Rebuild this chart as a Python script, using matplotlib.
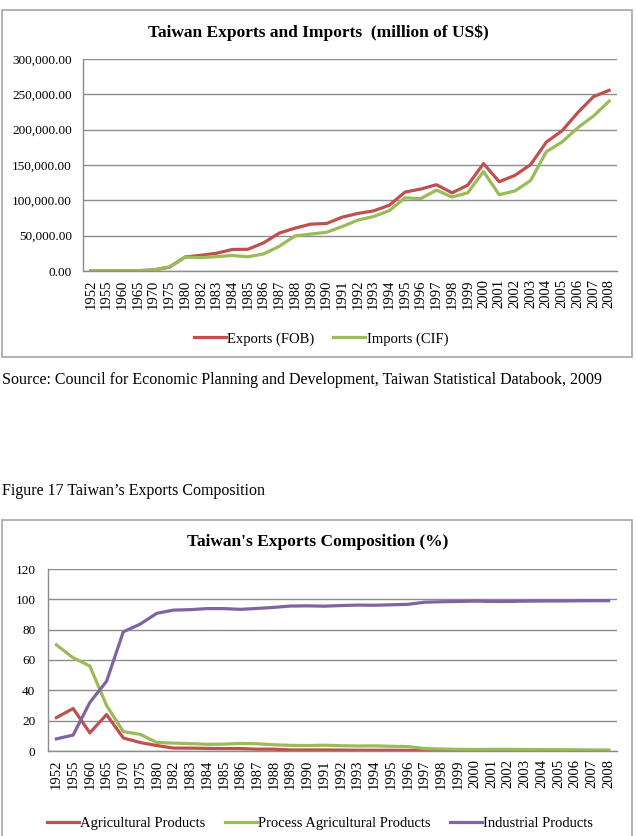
import matplotlib
matplotlib.use("Agg")
import matplotlib.pyplot as plt
from matplotlib.patches import Rectangle
from matplotlib.ticker import FuncFormatter

plt.rcParams["font.family"] = ["Liberation Serif", "DejaVu Serif"]

years = ["1952", "1955", "1960", "1965", "1970", "1975", "1980"] + \
    [str(y) for y in range(1982, 2009)]

# million US$
exports_fob = [116, 123, 164, 450, 1481, 5309, 19811, 22204, 25123, 30456,
               30726, 39862, 53679, 60667, 66304, 67214, 76178, 81470, 85092,
               93049, 111659, 115942, 122081, 110582, 121591, 151950, 126314,
               135317, 150600, 182370, 198432, 224017, 246677, 255629]
imports_cif = [187, 201, 297, 556, 1524, 5952, 19733, 18888, 20287, 21959,
               20102, 24181, 34983, 49673, 52265, 54716, 62861, 72007, 77061,
               85349, 103550, 102370, 114425, 104665, 110690, 140732, 107971,
               113245, 128010, 168758, 182614, 202698, 219252, 240448]

# percent of exports
agri = [22, 28, 12, 24, 8.6, 5.6, 3.6, 1.9, 1.9, 1.7, 1.6, 1.6, 1.2, 1.2,
        0.7, 0.7, 0.7, 0.6, 0.5, 0.5, 0.5, 0.4, 0.3, 0.3, 0.3, 0.2, 0.3,
        0.3, 0.2, 0.2, 0.2, 0.2, 0.2, 0.2]
proc_agri = [70, 61.5, 56, 30, 12.8, 11, 5.6, 5.2, 4.9, 4.4, 4.5, 5.0, 4.8,
             4.1, 3.7, 3.6, 3.8, 3.5, 3.3, 3.4, 3.1, 2.9, 1.6, 1.3, 1.1, 1.0,
             1.1, 1.1, 1.0, 0.9, 0.9, 0.8, 0.7, 0.7]
industrial = [8, 10.5, 32, 46, 78.6, 83.6, 90.8, 92.9, 93.2, 93.9, 93.9,
              93.4, 94.0, 94.7, 95.6, 95.7, 95.5, 95.9, 96.2, 96.1, 96.4,
              96.7, 98.1, 98.4, 98.6, 98.8, 98.6, 98.6, 98.8, 98.9, 98.9,
              99.0, 99.1, 99.1]

RED = "#C0504D"
GREEN = "#9BBB59"
PURPLE = "#8064A2"
GRID = "#8C8C8C"

W, H = 636, 836
fig = plt.figure(figsize=(W / 100, H / 100), dpi=100)


def fx(px):
    return px / W


def fy(py):
    return 1 - py / H


def style_axes(ax, ypad):
    ax.grid(axis="y", color=GRID, linewidth=1.0)
    ax.set_axisbelow(True)
    for s in ("top", "right"):
        ax.spines[s].set_visible(False)
    for s in ("left", "bottom"):
        ax.spines[s].set_color(GRID)
        ax.spines[s].set_linewidth(1.0)
    ax.tick_params(axis="y", length=0, labelsize=9.5, pad=ypad)
    ax.tick_params(axis="x", length=0, labelsize=10.5, rotation=90, pad=6)
    ax.set_xlim(-0.5, len(years) - 0.5)


# frames around both charts
fig.patches.append(Rectangle((fx(2), fy(357)), fx(630), 347 / H,
                             transform=fig.transFigure, fill=False,
                             edgecolor="#A6A6A6", linewidth=1.2))
fig.patches.append(Rectangle((fx(2), fy(850)), fx(630), 330 / H,
                             transform=fig.transFigure, fill=False,
                             edgecolor="#A6A6A6", linewidth=1.2))

# chart 1
x = range(len(years))
ax1 = fig.add_axes([fx(83), fy(271), fx(617 - 83), (271 - 59) / H])
ax1.plot(x, exports_fob, color=RED, lw=2.3, label="Exports (FOB)")
ax1.plot(x, imports_cif, color=GREEN, lw=2.3, label="Imports (CIF)")
ax1.set_ylim(0, 300000)
ax1.set_yticks(range(0, 300001, 50000))
ax1.yaxis.set_major_formatter(FuncFormatter(lambda v, p: f"{v:,.2f}"))
ax1.set_xticks(list(x))
ax1.set_xticklabels(years)
style_axes(ax1, 8)
fig.text(0.5, fy(33), "Taiwan Exports and Imports  (million of US$)",
         ha="center", va="center", fontsize=12.5, fontweight="bold")
ax1.legend(loc="center", bbox_to_anchor=(fx(321), fy(339)),
           bbox_transform=fig.transFigure, ncol=2, frameon=False,
           fontsize=10.5, handlelength=2.2, handletextpad=0.1,
           columnspacing=1.3)

fig.text(fx(2), fy(380),
         "Source: Council for Economic Planning and Development, "
         "Taiwan Statistical Databook, 2009",
         ha="left", va="center", fontsize=11.5)
fig.text(fx(2), fy(491), "Figure 17 Taiwan\u2019s Exports Composition",
         ha="left", va="center", fontsize=11.5)

# chart 2
ax2 = fig.add_axes([fx(48), fy(751), fx(617 - 48), (751 - 569) / H])
ax2.plot(x, agri, color=RED, lw=2.3, label="Agricultural Products")
ax2.plot(x, proc_agri, color=GREEN, lw=2.3,
         label="Process Agricultural Products")
ax2.plot(x, industrial, color=PURPLE, lw=2.3, label="Industrial Products")
ax2.set_ylim(0, 120)
ax2.set_yticks(range(0, 121, 20))
ax2.set_xticks(list(x))
ax2.set_xticklabels(years)
style_axes(ax2, 9)
fig.text(0.5, fy(542), "Taiwan's Exports Composition (%)",
         ha="center", va="center", fontsize=12.5, fontweight="bold")
ax2.legend(loc="center", bbox_to_anchor=(fx(320), fy(823)),
           bbox_transform=fig.transFigure, ncol=3, frameon=False,
           fontsize=10.5, handlelength=2.2, handletextpad=0.1,
           columnspacing=1.3)

fig.savefig("out.png", dpi=100)
